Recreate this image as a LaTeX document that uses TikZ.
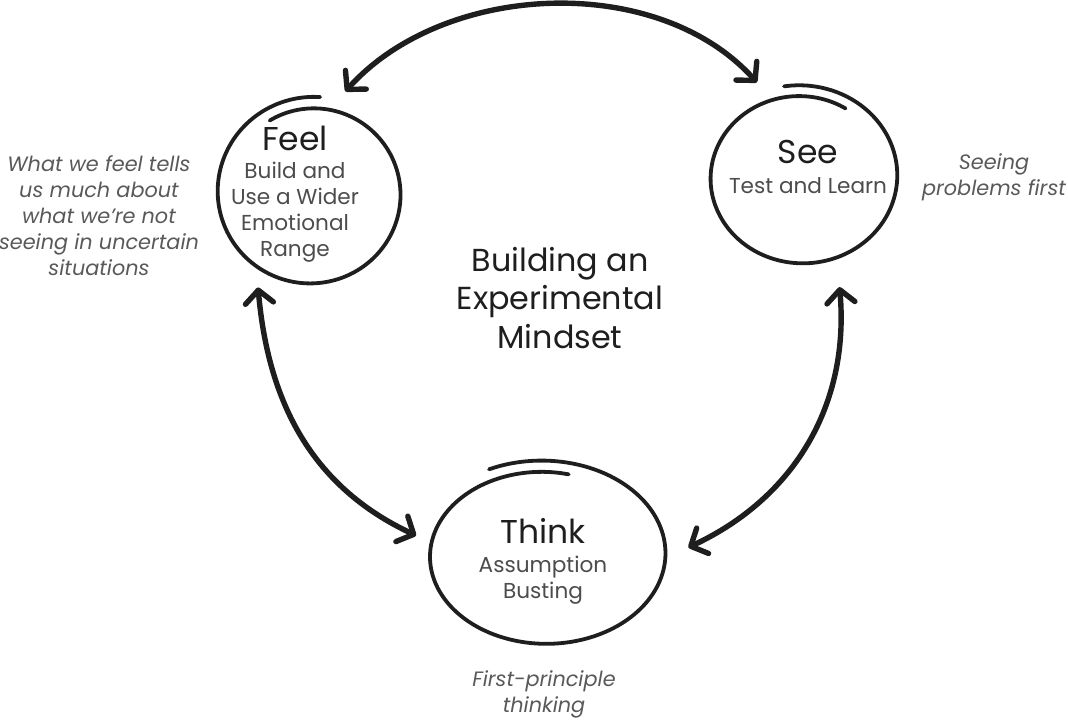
\documentclass[tikz,border=0pt]{standalone}
\usepackage{fontspec}
\setmainfont{Poppins}
\usetikzlibrary{arrows.meta,shapes.geometric}
\definecolor{ink}{HTML}{1E1E1E}

\tikzset{
  hub/.style={circle, inner sep=0pt},
  outline/.style={line width=1.9pt, line cap=round, draw=ink},
  link/.style={line width=2.7pt, draw=ink, line cap=round,
    {Straight Barb[length=6.5pt,width=14pt,round]}-{Straight Barb[length=6.5pt,width=14pt,round]}},
  head/.style={font=\fontsize{16.5}{19}\selectfont, text=ink},
  sub/.style={font=\fontsize{10.8}{13}\selectfont, text=black!70, align=center},
  note/.style={font=\fontsize{10.4}{13}\selectfont\itshape, text=black!65, align=center},
  title/.style={font=\fontsize{15.9}{19.25}\selectfont, text=ink, align=center},
}

\begin{document}
\begin{tikzpicture}[x=0.5pt, y=-0.5pt]
\useasboundingbox (0,0) rectangle (1068,720);
% hubs for the three stages
\node[hub, minimum size=107.5pt] (feel) at (312,194) {};
\node[hub, minimum size=110pt] (see) at (800,184) {};
\node[hub, ellipse, minimum width=136pt, minimum height=110pt] (think) at (552,545) {};

% hand drawn rings, a bit of overlap at the top
\foreach \cx/\cy/\rx/\ry/\ta/\tb in {312/193/91/90/-120/275, 801/177/93/86/-59/-460, 544/555/118/89/-77/-476}
  \draw[outline] plot[smooth, domain=0:1, samples=90, variable=\s]
    ({\cx+\rx*(0.93+0.14*\s)*cos(\ta+(\tb-(\ta))*\s)}, {\cy+\ry*(0.93+0.14*\s)*sin(\ta+(\tb-(\ta))*\s)});

\node[head] (feelhead) at (295,138) {Feel};
\node[sub] (feelsub) at (295,212) {Build and\\Use a Wider\\Emotional\\Range};
\node[head] (seehead) at (808,152) {See};
\node[sub] (seesub) at (808,186) {Test and Learn};
\node[head] (thinkhead) at (543,531) {Think};
\node[sub] (thinksub) at (543,580) {Assumption\\Busting};

\node[title] (mindset) at (560,298) {Building an\\Experimental\\Mindset};

% side notes
\node[note] (feelnote) at (99,216) {What we feel tells\\us much about\\what we’re not\\seeing in uncertain\\situations};
\node[note] (seenote) at (994,177) {Seeing\\problems first};
\node[note] (thinknote) at (544,694) {First-principle\\thinking};

\draw[link] (feel.72) to[out=48, in=132, looseness=0.92] (see.113);
\draw[link] (feel.240) to[out=-85, in=155] (think.176);
\draw[link] (see.-69) to[out=-85, in=25] (think.-1);
\end{tikzpicture}
\end{document}
